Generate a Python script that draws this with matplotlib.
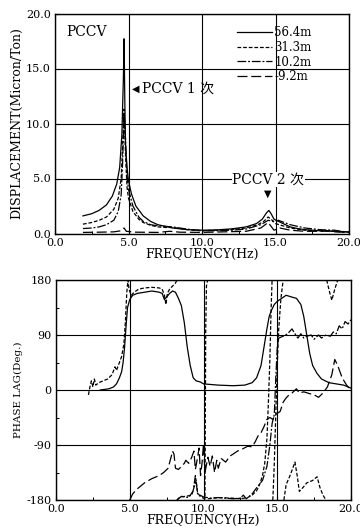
import numpy as np
import matplotlib
matplotlib.use("Agg")
import matplotlib.pyplot as plt

plt.rcParams['font.family'] = ['DejaVu Serif', 'DejaVu Sans', 'Noto Sans CJK JP']

# ---------------- data: displacement (top) ----------------
series_labels = ["56.4m", "31.3m", "10.2m", "-9.2m"]

f_564 = [1.9, 2.5, 3.0, 3.5, 3.9, 4.2, 4.4, 4.55, 4.65, 4.7, 4.75, 4.8, 4.9, 5.0, 5.2, 5.5, 6.0, 6.5, 7.0, 8.0,
         9.0, 10.0, 11.0, 12.0, 13.0, 13.7, 14.1, 14.4, 14.55, 14.7, 14.9, 15.2, 15.6, 16.0, 16.5, 17.0, 18.0, 19.0, 20.0]
d_564 = [1.6, 1.8, 2.1, 2.6, 3.4, 4.5, 6.0, 9.0, 14.0, 17.7, 12.0, 8.0, 6.0, 4.8, 3.6, 2.5, 1.6, 1.1, 0.8, 0.5,
         0.35, 0.3, 0.33, 0.42, 0.6, 0.9, 1.3, 1.9, 2.1, 1.8, 1.3, 1.1, 0.85, 0.6, 0.45, 0.35, 0.25, 0.2, 0.15]

f_313 = [1.9, 2.5, 3.0, 3.5, 4.0, 4.3, 4.5, 4.6, 4.7, 4.8, 4.9, 5.0, 5.3, 5.7, 6.0, 6.5, 7.0, 7.5, 8.0, 9.0,
         10.0, 11.0, 12.0, 13.0, 13.8, 14.2, 14.5, 14.7, 15.0, 15.5, 16.0, 17.0, 18.0, 19.0, 20.0]
d_313 = [0.85, 1.0, 1.2, 1.5, 2.2, 3.2, 5.0, 8.0, 11.3, 7.0, 4.2, 3.2, 2.0, 1.3, 1.0, 0.75, 0.6, 0.55, 0.55, 0.35,
         0.25, 0.3, 0.35, 0.5, 0.8, 1.1, 1.5, 1.3, 0.9, 0.7, 0.5, 0.3, 0.25, 0.2, 0.1]

f_102 = [1.9, 2.5, 3.0, 3.5, 4.0, 4.3, 4.5, 4.6, 4.7, 4.8, 4.9, 5.0, 5.3, 5.7, 6.0, 6.5, 7.0, 7.5, 8.0, 9.0,
         10.0, 11.0, 12.0, 13.0, 14.0, 14.5, 14.8, 15.2, 15.6, 16.0, 17.0, 18.0, 19.0, 20.0]
d_102 = [0.45, 0.5, 0.6, 0.8, 1.2, 2.0, 3.5, 6.5, 10.9, 8.5, 5.2, 4.0, 2.5, 1.5, 1.1, 0.8, 0.7, 0.65, 0.6, 0.4,
         0.25, 0.25, 0.3, 0.4, 0.8, 1.2, 1.1, 1.2, 1.0, 0.8, 0.5, 0.35, 0.3, 0.1]

f_m92 = [1.9, 3.0, 4.0, 4.5, 4.7, 4.85, 5.5, 7.0, 7.8, 8.5, 10.0, 13.0, 14.0, 14.5, 14.9, 15.3, 16.0, 17.0, 18.0, 18.8, 19.0, 20.0]
d_m92 = [0.1, 0.12, 0.15, 0.25, 0.5, 0.2, 0.12, 0.1, 0.2, 0.12, 0.1, 0.2, 0.5, 1.0, 0.3, 0.5, 0.3, 0.2, 0.2, 0.25, 0.15, 0.1]

# ---------------- data: phase (bottom), None = wrap gap ----------------
pf_564 = [3.0, 3.3, 3.6, 3.9, 4.1, 4.3, 4.45, 4.55, 4.65, 4.75, 4.85, 5.0, 5.2, 5.5, 6.0, 6.5, 7.0, 7.2, 7.35, 7.5,
          7.7, 7.9, 8.1, 8.3, 8.5, 8.7, 8.9, 9.1, 9.3, 9.5, 9.8, 10.0, 10.5, 11.0, 12.0, 12.8, 13.3, 13.6, 13.9, 14.1,
          14.3, 14.45, 14.6, 14.8, 15.0, 15.3, 15.6, 16.0, 16.3, 16.6, 16.8, 17.0, 17.2, 17.4, 17.7, 18.0, 18.5, 19.0, 19.5, 20.0]
ph_564 = [0, 1, 2, 5, 10, 20, 30, 45, 70, 105, 135, 148, 155, 158, 160, 162, 160, 158, 148, 152,
          158, 162, 160, 150, 138, 110, 70, 40, 20, 15, 13, 10, 9, 8, 7, 8, 12, 20, 40, 70,
          100, 120, 130, 140, 145, 150, 155, 152, 150, 140, 120, 90, 60, 40, 27, 18, 12, 10, 8, 3]

pf_313 = [2.2, 2.3, 2.4, 2.5, 2.6, 2.7, 2.9, 3.2, 3.5, 3.8, 4.0, 4.1, 4.3, 4.45, 4.6, 4.7, 4.8, 4.88, 4.95, 5.1,
          5.3, 5.6, 6.0, 6.5, 7.0, 7.2, 7.35, 7.45, 7.55, 7.7, 7.9, 8.1, 8.2, None,
          8.2, 8.4, 8.8, 9.2, 9.35, 9.5, 9.6, 9.8, 10.1, 10.15, 10.2, 10.28, None,
          10.3, 11.0, 12.0, 12.5, 13.0, 13.3, 13.6, 13.8, 14.0, 14.15, 14.3, 14.4, 14.5, 14.58, 14.65, None,
          14.7, 14.8, 14.9, 15.0, 15.1, 15.25, 15.4, None,
          15.45, 15.6, 15.9, 16.05, 16.2, 16.35, 16.5, 16.8, 17.0, 17.4, 17.7, 17.9, 18.1, 18.3, None,
          18.35, 18.55, 18.7, 18.9, 19.1]
ph_313 = [-8, 5, 15, 5, 18, 8, 12, 15, 18, 25, 38, 32, 45, 55, 75, 110, 160, 180, 165, 155,
          160, 165, 167, 168, 167, 165, 155, 140, 158, 165, 170, 175, 180, None,
          -180, -175, -174, -172, -160, -148, -168, -175, -178, 100, 170, 180, None,
          -178, -176, -177, -178, -176, -172, -165, -155, -140, -120, -80, -20, 50, 130, 180, None,
          -180, -120, -40, 40, 100, 150, 180, None,
          -180, -155, -138, -128, -118, -140, -166, -158, -152, -148, -142, -160, -172, -180, None,
          180, 160, 147, 165, 180]

pf_102 = [8.2, 8.5, 9.0, 9.3, 9.45, 9.6, 10.0, 10.5, 11.0, 12.0, 12.5, 12.7, 12.9, 13.3, 13.6, 14.0, 14.3, 14.5,
          14.65, 14.8, 14.9, 15.0, 15.1, 15.4, 15.7, 16.0, 16.2, 16.4, 16.6, 16.8, 17.0, 17.3, 17.5, 17.8, 18.0,
          18.3, 18.6, 18.8, 19.0, 19.2, 19.4, 19.6, 19.8, 20.0]
ph_102 = [-180, -174, -176, -165, -140, -170, -175, -177, -176, -178, -177, -172, -178, -170, -160, -148, -125, -90,
          -55, -40, 20, 70, 85, 88, 92, 100, 92, 85, 92, 85, 88, 90, 83, 90, 85,
          90, 88, 95, 92, 105, 100, 112, 108, 115]

pf_m92 = [5.0, 5.2, 5.5, 6.0, 6.5, 7.0, 7.3, 7.6, 7.8, 7.9, 8.0, 8.1, 8.3, 8.5, 8.7, 8.8, 9.0, 9.2, 9.35, 9.45,
          9.6, 9.7, 9.8, 9.9, 10.0, 10.1, 10.3, 10.45, 10.6, 10.75, 10.9, 11.0, 11.2, 11.5, 11.8, 12.0, 12.3, 12.6,
          13.0, 13.3, 13.5, 13.7, 13.9, 14.1, 14.3, 14.5, 14.7, 14.9, 15.2, 15.4, 15.6, 15.8, 16.0, 16.3, 16.5,
          16.8, 17.2, 17.5, 17.8, 18.1, 18.4, 18.7, 18.9, 19.1, 19.4, 19.7, 20.0]
ph_m92 = [-180, -170, -162, -152, -145, -140, -135, -128, -110, -100, -105, -128, -130, -125, -120, -115, -120,
          -110, -100, -130, -110, -95, -140, -120, -88, -135, -110, -125, -108, -135, -115, -128, -112, -118, -108,
          -105, -100, -97, -92, -93, -85, -75, -70, -60, -48, -45, -48, -40, -35, -20, -13, -8, -5, 2, -5,
          -3, -6, -8, -12, -5, 5, 25, 50, 40, 20, 8, 0]

x_ticks = [0, 5, 10, 15, 20]
x_ticklabels = ["0.0", "5.0", "10.0", "15.0", "20.0"]
disp_ticks = [0, 5, 10, 15, 20]
disp_ticklabels = ["0.0", "5.0", "10.0", "15.0", "20.0"]
phase_ticks = [-180, -90, 0, 90, 180]
phase_ticklabels = ["-180", "-90", "0", "90", "180"]

styles = [dict(ls='-'), dict(ls=(0, (3, 1.5))), dict(ls=(0, (7, 1.5, 1.5, 1.5))), dict(ls=(0, (8, 3)))]


def arr(v):
    return np.array([np.nan if x is None else x for x in v], dtype=float)


fig = plt.figure(figsize=(3.6, 5.32), dpi=100)
ax1 = fig.add_axes([55 / 360, 1 - 233.5 / 532, 294 / 360, 220 / 532])
ax2 = fig.add_axes([56 / 360, 1 - 500 / 532, 295 / 360, 220 / 532])

tick_fs = 8
lab_fs = 9

for ax in (ax1, ax2):
    ax.set_xlim(0, 20)
    ax.set_xticks(x_ticks)
    ax.set_xticklabels(x_ticklabels, fontsize=tick_fs)
    ax.set_xticks([2.5, 7.5, 12.5, 17.5], minor=True)
    ax.tick_params(direction='in', length=3, width=0.8, pad=3, colors='black')
    ax.tick_params(which='minor', direction='in', length=2, width=0.7)
    for s in ax.spines.values():
        s.set_linewidth(1.0)
        s.set_color('black')
    ax.grid(True, which='major', color='black', linewidth=0.8)
    ax.set_axisbelow(True)
    ax.set_xlabel("FREQUENCY(Hz)", fontsize=lab_fs, labelpad=0)

# top
ax1.set_ylim(0, 20)
ax1.set_yticks(disp_ticks)
ax1.set_yticklabels(disp_ticklabels, fontsize=tick_fs)
ax1.set_ylabel("DISPLACEMENT(Micron/Ton)", fontsize=lab_fs, labelpad=2)
top = [(f_564, d_564), (f_313, d_313), (f_102, d_102), (f_m92, d_m92)]
handles = []
for (fx, dy), st, lab in zip(top, styles, series_labels):
    h, = ax1.plot(arr(fx), arr(dy), color='black', lw=0.9, label=lab, **st)
    handles.append(h)
ax1.legend(handles=handles, loc='upper left', bbox_to_anchor=((237 - 55) / 294, (233.5 - 26) / 220),
           frameon=False, fontsize=8.5, handlelength=3.0, handletextpad=0.15, labelspacing=0.15,
           borderpad=0, borderaxespad=0)

ax1.text(0.04, 0.915, "PCCV", transform=ax1.transAxes, fontsize=10, ha='left', va='center')
ax1.text(5.25, 13.2, "◀", fontsize=7, ha='left', va='center', family=['DejaVu Sans'])
ax1.text(5.9, 13.2, "PCCV 1 次", fontsize=10, ha='left', va='center')
ax1.text(14.5, 4.9, "PCCV 2 次", fontsize=10, ha='center', va='center',
         bbox=dict(facecolor='white', edgecolor='none', pad=0.5))
ax1.text(14.45, 3.6, "▼", fontsize=7, ha='center', va='center', family=['DejaVu Sans'])

# bottom
ax2.set_ylim(-180, 180)
ax2.set_yticks(phase_ticks)
ax2.set_yticklabels(phase_ticklabels, fontsize=tick_fs)
ax2.set_yticks([-135, -45, 45, 135], minor=True)
ax2.set_ylabel("PHASE LAG(Deg.)", fontsize=7.5, labelpad=3)
bottom = [(pf_564, ph_564), (pf_313, ph_313), (pf_102, ph_102), (pf_m92, ph_m92)]
for (fx, py), st in zip(bottom, styles):
    ax2.plot(arr(fx), arr(py), color='black', lw=0.9, **st)

fig.savefig("out.png", dpi=100)
